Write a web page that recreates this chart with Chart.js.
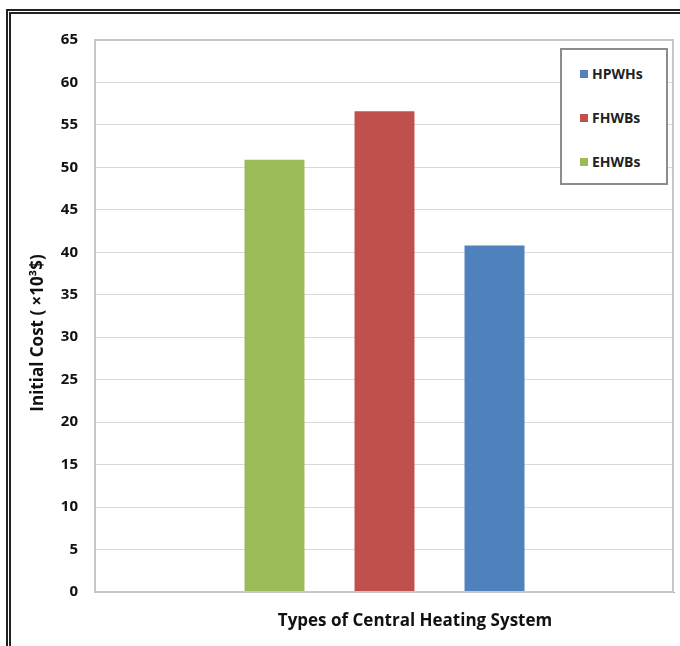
<!DOCTYPE html>
<html lang="en">
<head>
  <meta charset="UTF-8" />
  <title>Initial Cost by Heating System</title>
  <script src="https://cdn.jsdelivr.net/npm/chart.js"></script>
  <style>
    body {
      margin: 0;
      width: 680px;
      height: 646px;
      overflow: hidden;
      background: #fff;
      font-family: "Open Sans", Arial, sans-serif;
    }
    #frame {
      position: absolute;
      left: 6px;
      top: 9px;
      width: 700px;
      height: 650px;
      border: 5px double #222;
    }
    #wrap {
      position: absolute;
      left: 0;
      top: 0;
      width: 680px;
      height: 646px;
    }
    #legend {
      position: absolute;
      left: 560px;
      top: 48px;
      width: 104px;
      height: 133px;
      border: 2px solid #8c8c8c;
      background: #fff;
      font-weight: bold;
      font-size: 14px;
      color: #222;
    }
    .item {
      position: absolute;
      left: 18px;
      height: 16px;
      line-height: 16px;
    }
    .item span {
      display: inline-block;
      width: 8px;
      height: 8px;
      margin-right: 4px;
      vertical-align: 1px;
    }
  </style>
</head>
<body>
  <div id="frame"></div>
  <div id="wrap"><canvas id="costChart" width="680" height="646"></canvas></div>
  <div id="legend"></div>

  <script>
    // values (x10^3 $)
    const systems = ["EHWBs", "FHWBs", "HPWHs"];
    const initialCost = [50.9, 56.6, 40.8];
    const barColors = ["#9bbb59", "#c0504d", "#4f81bd"];
    const yTicks = [0, 5, 10, 15, 20, 25, 30, 35, 40, 45, 50, 55, 60, 65];
    const xTitle = "Types of Central Heating System";
    const yTitle = "Initial Cost ( \u00d710\u00b3$)";

    const fontFam = '"Open Sans", Arial, sans-serif';

    // plot border + axis titles (the titles sit off-centre in the original)
    const extras = {
      id: "extras",
      afterDraw(chart) {
        const a = chart.chartArea;
        const c = chart.ctx;
        c.save();
        c.strokeStyle = "#c8c8c8";
        c.lineWidth = 2;
        c.strokeRect(a.left, a.top, a.right - a.left - 1, a.bottom - a.top);

        c.fillStyle = "#111";
        c.textAlign = "center";
        c.textBaseline = "middle";
        c.font = "bold 17px " + fontFam;
        c.fillText(xTitle, 415, 621);

        c.translate(38, 333);
        c.rotate(-Math.PI / 2);
        c.font = "bold 17px " + fontFam;
        c.fillText(yTitle, 0, 0);
        c.restore();
      }
    };

    const ctx = document.getElementById("costChart").getContext("2d");
    new Chart(ctx, {
      type: "bar",
      data: {
        labels: [""],
        datasets: systems.map((s, i) => ({
          label: s,
          data: [initialCost[i]],
          backgroundColor: barColors[i],
          barPercentage: 0.545,
          categoryPercentage: 0.57
        }))
      },
      options: {
        responsive: false,
        animation: false,
        layout: { padding: { left: 0, right: 6, top: 40, bottom: 54 } },
        plugins: {
          legend: { display: false },
          tooltip: { enabled: false }
        },
        scales: {
          x: {
            grid: { display: false, drawTicks: false },
            border: { color: "#a6a6a6" },
            ticks: { display: false }
          },
          y: {
            min: 0,
            max: 65,
            afterBuildTicks: axis => { axis.ticks = yTicks.map(v => ({ value: v })); },
            afterFit: axis => { axis.width = 95; },
            grid: { color: "#d9d9d9", drawTicks: false },
            border: { color: "#a6a6a6" },
            ticks: {
              color: "#111",
              padding: 17,
              font: { family: fontFam, size: 15, weight: "bold" }
            }
          }
        }
      },
      plugins: [extras]
    });

    // legend box drawn in the reverse order, like the original
    const legend = document.getElementById("legend");
    systems.slice().reverse().forEach((s, k) => {
      const i = systems.length - 1 - k;
      const d = document.createElement("div");
      d.className = "item";
      d.style.top = (16 + k * 44) + "px";
      d.innerHTML = `<span style="background:${barColors[i]}"></span>${s}`;
      legend.appendChild(d);
    });
  </script>
</body>
</html>
